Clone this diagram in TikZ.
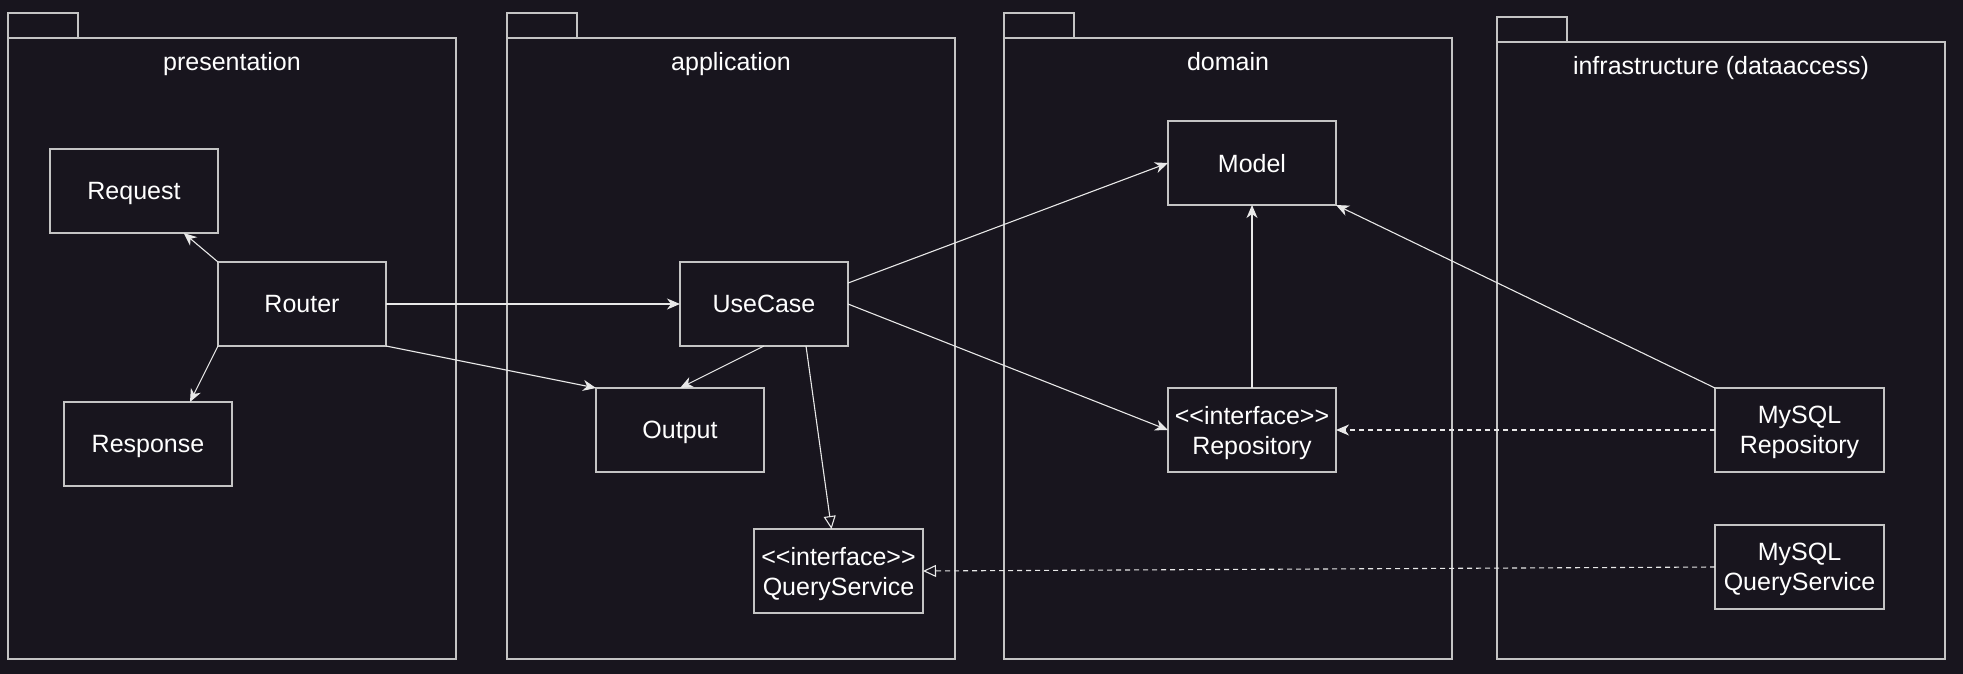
\documentclass[tikz,border=0pt]{standalone}
\usepackage{fontspec}
\setmainfont{Liberation Sans}
\usetikzlibrary{arrows.meta}
\definecolor{fondsombre}{RGB}{24,21,30}
\definecolor{traitclair}{RGB}{196,196,196}
\definecolor{flecheclair}{RGB}{232,232,232}

\begin{document}
\begin{tikzpicture}[x=1pt,y=-1pt]
% définition des paramètres
\tikzstyle paquetcadre=[draw=traitclair,line width=1.3pt]
\tikzstyle paquettitre=[text=white,text depth=0pt,font=\fontsize{25}{30}\selectfont]
\tikzstyle boite=[draw=traitclair,line width=1.3pt,text=white,align=center,text depth=0pt,minimum width=168pt,minimum height=84pt,inner sep=0pt,outer sep=0pt,font=\fontsize{25}{30}\selectfont]
\tikzstyle fleche=[draw=flecheclair,line width=1.1pt,-{Stealth[length=13pt,width=11pt,inset=4pt]}]
\tikzstyle flecheheritage=[draw=flecheclair,line width=1.1pt,-{Triangle[open,length=13pt,width=12pt,fill=fondsombre]}]
\tikzstyle pointille=[dash pattern=on 5pt off 4pt]
\newcommand{\paqlarg}{448} % largeur d'un paquet
\newcommand{\paqbas}{659}  % ordonnée du bas des paquets
\newcommand{\onglarg}{70}  % largeur de l'onglet
\newcommand{\onghaut}{25}  % hauteur de l'onglet
\newcommand{\interf}{{<}{<}interface{>}{>}} % stéréotype sans guillemets
% le fond
\fill[fondsombre] (0,0) rectangle (1963,674);
\useasboundingbox (0,0) rectangle (1963,674);
% les paquets
\foreach \px/\py/\titre [count=\k] in {8/38/presentation,507/38/application,1004/38/domain,1497/42/infrastructure (dataaccess)}
{
    \draw[paquetcadre] (\px,\py-\onghaut) rectangle (\px+\onglarg,\py);
    \draw[paquetcadre] (\px,\py) rectangle (\px+\paqlarg,\paqbas);
    \node[paquettitre] (paquet\k) at (\px+\paqlarg/2,\py+23) {\titre};
}
% les boites
\node[boite] (request) at (134,191) {Request};
\node[boite] (router) at (302,304) {Router};
\node[boite] (response) at (148,444) {Response};
\node[boite] (usecase) at (764,304) {UseCase};
\node[boite] (output) at (680,430) {Output};
\node[boite,minimum width=169pt] (queryservice) at (838.5,571) {\interf\\QueryService};
\node[boite] (model) at (1252,163) {Model};
\node[boite] (repository) at (1252,430) {\interf\\Repository};
\node[boite,minimum width=169pt] (mysqlrepository) at (1799.5,430) {MySQL\\Repository};
\node[boite,minimum width=169pt] (mysqlqueryservice) at (1799.5,567) {MySQL\\QueryService};
% les flèches
\draw[fleche] (router.north west) -- (request);
\draw[fleche] (router.south west) -- (response.45);
\draw[fleche] (router.east) -- (usecase.west);
\draw[fleche] (router.south east) -- (output.north west);
\draw[fleche] (usecase.south) -- (output.north);
\draw[flecheheritage] (usecase.-45) -- ([xshift=-7pt]queryservice.north);
\draw[fleche] (usecase.14) -- (model.west);
\draw[fleche] (usecase.east) -- (repository.west);
\draw[fleche] (repository.north) -- (model.south);
\draw[fleche] (mysqlrepository.north west) -- (model.south east);
% les réalisations
\draw[fleche,pointille] (mysqlrepository.west) -- (repository.east);
\draw[flecheheritage,pointille] (mysqlqueryservice.west) -- (queryservice.east);
\end{tikzpicture}
\end{document}
